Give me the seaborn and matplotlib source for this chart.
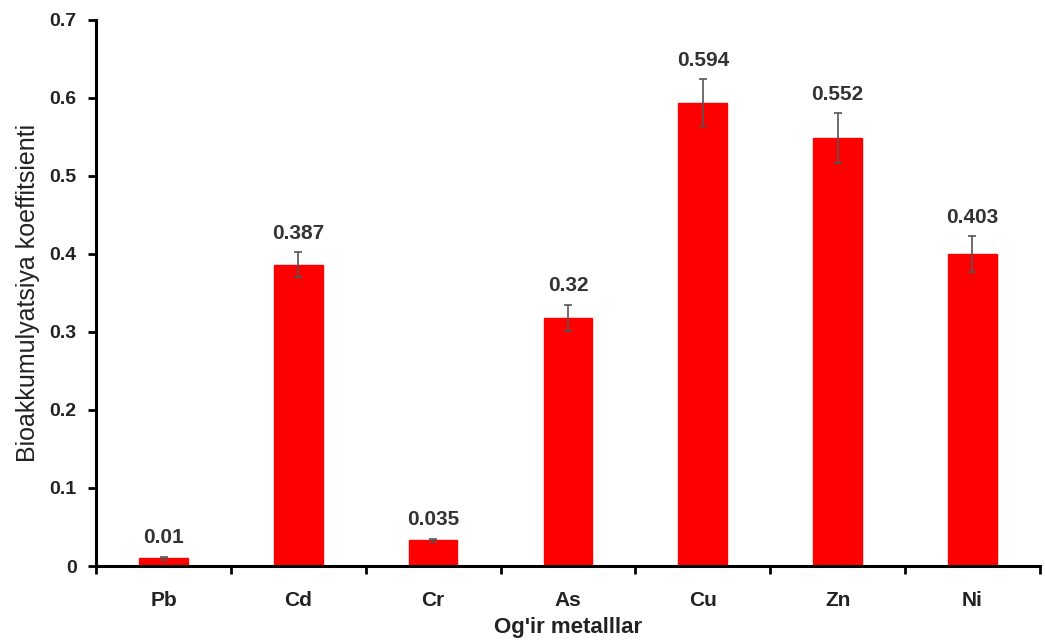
import numpy as np
import pandas as pd
import matplotlib
matplotlib.use("Agg")
import matplotlib.pyplot as plt
import seaborn as sns
from matplotlib.ticker import FixedLocator

metals = ["Pb", "Cd", "Cr", "As", "Cu", "Zn", "Ni"]
heights = [0.010, 0.386, 0.033, 0.318, 0.594, 0.548, 0.400]
errors = [0.002, 0.016, 0.002, 0.017, 0.030, 0.032, 0.023]
labels = ["0.01", "0.387", "0.035", "0.32", "0.594", "0.552", "0.403"]

sns.set_theme(style="ticks")
plt.rcParams["font.family"] = ["Liberation Sans", "DejaVu Sans"]

df = pd.DataFrame({"Metal": metals, "BAF": heights})

fig = plt.figure(figsize=(10.45, 6.41), dpi=100)
ax = fig.add_axes([0.092, 0.117, 0.903, 0.852])

sns.barplot(data=df, x="Metal", y="BAF", color="#ff0000", saturation=1,
            width=0.36, ax=ax, errorbar=None)
for p in ax.patches:
    p.set_edgecolor("#ff0000")

xs = np.arange(len(metals))
ax.errorbar(xs, heights, yerr=errors, fmt="none", ecolor="#555555",
            elinewidth=1.2, capsize=3, capthick=1.2)

for x, h, e, lab in zip(xs, heights, errors, labels):
    ax.text(x, h + e + 0.012, lab, ha="center", va="bottom",
            fontsize=15, fontweight="bold", color="#333333")

ax.set_xlim(-0.5, len(metals) - 0.5)
ax.set_ylim(0, 0.7)
ax.set_yticks(np.arange(0, 0.71, 0.1))
ax.set_yticklabels(["0", "0.1", "0.2", "0.3", "0.4", "0.5", "0.6", "0.7"])
ax.xaxis.set_minor_locator(FixedLocator(np.arange(-0.5, len(metals), 1.0)))
ax.tick_params(axis="x", which="major", length=0, pad=18, labelsize=15)
ax.tick_params(axis="x", which="minor", length=6, width=2, direction="out", color="black")
ax.tick_params(axis="y", length=6, width=2, direction="out", labelsize=14, pad=8, color="black")
for t in ax.get_xticklabels() + ax.get_yticklabels():
    t.set_fontweight("bold")
    t.set_color("#222222")

ax.set_xlabel("Og'ir metalllar", fontsize=16, fontweight="bold", color="#222222", labelpad=5)
ax.set_ylabel("Bioakkumulyatsiya koeffitsienti", fontsize=18, color="#222222", labelpad=7)

for s in ["left", "bottom"]:
    ax.spines[s].set_linewidth(2.2)
    ax.spines[s].set_color("black")
sns.despine(ax=ax)

fig.savefig("out.png", dpi=100)
